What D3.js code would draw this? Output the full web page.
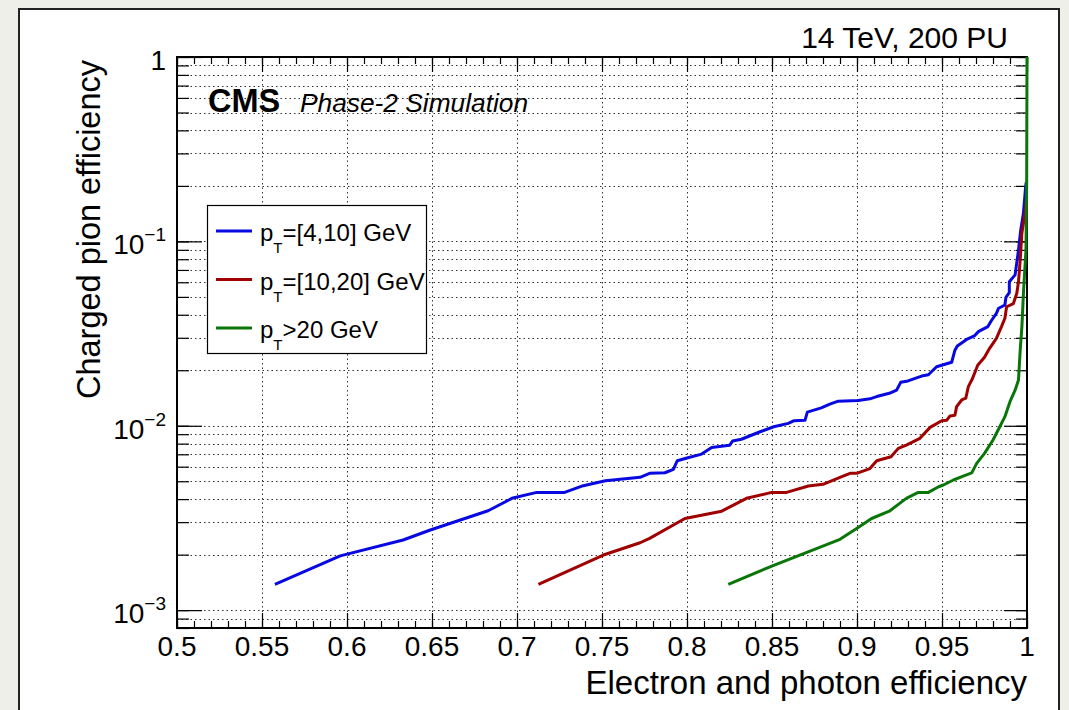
<!DOCTYPE html>
<html>
<head>
<meta charset="utf-8">
<title>Charged pion vs electron efficiency</title>
<script src="https://d3js.org/d3.v7.min.js"></script>
<style>
  body { margin: 0; background: #efefea; }
  text { font-family: "Liberation Sans", Arial, Helvetica, sans-serif; fill: #000; }
</style>
</head>
<body>
<svg width="1069" height="710"></svg>
<script>
// series
const seriesNames = ["[4,10] GeV", "[10,20] GeV", ">20 GeV"];
const seriesColors = ["#0808e0", "#a00000", "#0a760a"];

const blueX = [0.5576, 0.596, 0.633, 0.649, 0.683, 0.697, 0.7116, 0.728, 0.739, 0.752, 0.7724, 0.778, 0.787, 0.792, 0.7943, 0.800, 0.8086, 0.8145, 0.825, 0.8268, 0.832, 0.843, 0.851, 0.8596, 0.863, 0.8694, 0.8708, 0.879, 0.884, 0.889, 0.9008, 0.9076, 0.9116, 0.919, 0.9233, 0.9257, 0.930, 0.938, 0.942, 0.9468, 0.9557, 0.9576, 0.959, 0.9645, 0.969, 0.9714, 0.977, 0.979, 0.982, 0.9833, 0.987, 0.9876, 0.9896, 0.9896, 0.993, 0.995, 0.9963, 0.9979, 0.9992, 0.9996];
const blueY = [0.00138, 0.00197, 0.00240, 0.00272, 0.00346, 0.00404, 0.00435, 0.00435, 0.00473, 0.00503, 0.00525, 0.00552, 0.00556, 0.0058, 0.00646, 0.00668, 0.00702, 0.00763, 0.00783, 0.00826, 0.00845, 0.00928, 0.00988, 0.0103, 0.01065, 0.0107, 0.01186, 0.0125, 0.0131, 0.0136, 0.0137, 0.0140, 0.0144, 0.0150, 0.0156, 0.0172, 0.0175, 0.0186, 0.0189, 0.0209, 0.0221, 0.0257, 0.0271, 0.0294, 0.0307, 0.0324, 0.0345, 0.0371, 0.0407, 0.0434, 0.0452, 0.0497, 0.0527, 0.0604, 0.0658, 0.0898, 0.115, 0.142, 0.198, 0.21];

const redX = [0.7126, 0.7508, 0.7724, 0.778, 0.7988, 0.8204, 0.835, 0.8498, 0.8586, 0.8714, 0.880, 0.890, 0.8959, 0.8998, 0.9076, 0.9116, 0.920, 0.9243, 0.929, 0.937, 0.943, 0.9498, 0.9527, 0.9547, 0.9576, 0.9586, 0.9616, 0.964, 0.9655, 0.968, 0.971, 0.975, 0.978, 0.982, 0.985, 0.987, 0.988, 0.992, 0.994, 0.995, 0.996, 0.997, 0.9988, 0.9998];
const redY = [0.00138, 0.00199, 0.00232, 0.00245, 0.00314, 0.00344, 0.00404, 0.00435, 0.00435, 0.00471, 0.00481, 0.00525, 0.00552, 0.00552, 0.00586, 0.00646, 0.00679, 0.00754, 0.00786, 0.00855, 0.0098, 0.01065, 0.0107, 0.0113, 0.0114, 0.0127, 0.0138, 0.0141, 0.0163, 0.0181, 0.0213, 0.0235, 0.0263, 0.0298, 0.0345, 0.0383, 0.0442, 0.046, 0.0523, 0.0604, 0.0794, 0.111, 0.142, 0.175];

const greenX = [0.8243, 0.851, 0.890, 0.8998, 0.9086, 0.919, 0.929, 0.936, 0.942, 0.948, 0.9508, 0.9567, 0.9625, 0.9675, 0.9704, 0.975, 0.980, 0.984, 0.987, 0.990, 0.993, 0.995, 0.996, 0.997, 0.998, 0.9994, 0.9998, 1.0];
const greenY = [0.00138, 0.00175, 0.00242, 0.00277, 0.00314, 0.00344, 0.00404, 0.00435, 0.00435, 0.00467, 0.00477, 0.00508, 0.00533, 0.00555, 0.00625, 0.00708, 0.00837, 0.00988, 0.0112, 0.0135, 0.0156, 0.0177, 0.0257, 0.0345, 0.0545, 0.0898, 0.2, 1.0];

const xTicks = [0.5, 0.55, 0.6, 0.65, 0.7, 0.75, 0.8, 0.85, 0.9, 0.95, 1];
const xTickLabels = ["0.5", "0.55", "0.6", "0.65", "0.7", "0.75", "0.8", "0.85", "0.9", "0.95", "1"];
const yTicks = [1e-3, 1e-2, 1e-1, 1];
const yTickBase = ["10", "10", "10", "1"];
const yTickExp = ["\u22123", "\u22122", "\u22121", ""];

const svg = d3.select("svg");
const frame = {left: 177, right: 1027, top: 57, bottom: 628};

// canvas
svg.append("rect")
  .attr("x", 19).attr("y", 9).attr("width", 1040).attr("height", 720)
  .attr("fill", "#fff").attr("stroke", "#222").attr("stroke-width", 2);

const x = d3.scaleLinear().domain([0.5, 1]).range([frame.left, frame.right]);
const y = d3.scaleLog().domain([8e-4, 1]).range([frame.bottom, frame.top]);

const xMinor = d3.range(0, 51).map(i => 0.5 + i * 0.01);
const yMinor = y.ticks();

// grid
const grid = svg.append("g")
  .attr("stroke", "#333").attr("stroke-width", 1).attr("stroke-dasharray", "1.5,3");
grid.selectAll(".gx").data(xTicks.slice(1, -1)).join("line")
  .attr("x1", d => Math.round(x(d)) + 0.5).attr("x2", d => Math.round(x(d)) + 0.5)
  .attr("y1", frame.top).attr("y2", frame.bottom);
grid.selectAll(".gy").data(yMinor.filter(d => d > 8.01e-4 && d < 0.999)).join("line")
  .attr("y1", d => Math.round(y(d)) + 0.5).attr("y2", d => Math.round(y(d)) + 0.5)
  .attr("x1", frame.left).attr("x2", frame.right);

// ticks (ROOT style, pointing inwards, on all four sides)
function ticks(axis, size, transform) {
  svg.append("g").attr("transform", transform)
    .call(axis.tickSize(size).tickFormat(""))
    .call(g => g.select(".domain").remove())
    .selectAll("line").attr("stroke", "#000").attr("stroke-width", 1.2);
}
ticks(d3.axisBottom(x).tickValues(xMinor), -7, `translate(0,${frame.bottom})`);
ticks(d3.axisBottom(x).tickValues(xTicks), -15, `translate(0,${frame.bottom})`);
ticks(d3.axisTop(x).tickValues(xMinor), -7, `translate(0,${frame.top})`);
ticks(d3.axisTop(x).tickValues(xTicks), -15, `translate(0,${frame.top})`);
ticks(d3.axisLeft(y).tickValues(yMinor), -12, `translate(${frame.left},0)`);
ticks(d3.axisLeft(y).tickValues(yTicks), -25, `translate(${frame.left},0)`);
ticks(d3.axisRight(y).tickValues(yMinor), -11, `translate(${frame.right},0)`);
ticks(d3.axisRight(y).tickValues(yTicks), -23, `translate(${frame.right},0)`);

// frame
svg.append("rect")
  .attr("x", frame.left).attr("y", frame.top)
  .attr("width", frame.right - frame.left).attr("height", frame.bottom - frame.top)
  .attr("fill", "none").attr("stroke", "#000").attr("stroke-width", 2);

// tick labels
svg.append("g").selectAll("text").data(xTicks).join("text")
  .attr("x", d => x(d)).attr("y", 656)
  .attr("text-anchor", "middle").attr("font-size", 28)
  .text((d, i) => xTickLabels[i]);

const yl = svg.append("g").selectAll("text").data(yTicks).join("text")
  .attr("x", 166).attr("y", d => y(d) + 13)
  .attr("text-anchor", "end").attr("font-size", 28);
yl.append("tspan").text((d, i) => yTickBase[i]);
yl.append("tspan").attr("font-size", 19).attr("dy", -13).text((d, i) => yTickExp[i]);

// axis titles
svg.append("text")
  .attr("x", frame.right).attr("y", 694)
  .attr("text-anchor", "end").attr("font-size", 33)
  .text("Electron and photon efficiency");
svg.append("text")
  .attr("transform", "translate(100,60) rotate(-90)")
  .attr("text-anchor", "end").attr("font-size", 32.5)
  .text("Charged pion efficiency");

// labels
svg.append("text")
  .attr("x", 1008).attr("y", 48).attr("text-anchor", "end").attr("font-size", 30)
  .text("14 TeV, 200 PU");
svg.append("text")
  .attr("x", 208).attr("y", 112).attr("font-size", 32.5).attr("font-weight", "bold")
  .text("CMS");
svg.append("text")
  .attr("x", 300).attr("y", 112).attr("font-size", 26.3).attr("font-style", "italic")
  .text("Phase-2 Simulation");

// curves
const series = [
  blueX.map((v, i) => [v, blueY[i]]),
  redX.map((v, i) => [v, redY[i]]),
  greenX.map((v, i) => [v, greenY[i]])
];
const line = d3.line().x(d => x(d[0])).y(d => y(d[1]));
svg.append("g").selectAll("path").data(series).join("path")
  .attr("d", line)
  .attr("fill", "none")
  .attr("stroke", (d, i) => seriesColors[i])
  .attr("stroke-width", 3)
  .attr("stroke-linejoin", "round");

// legend
const legend = svg.append("g");
legend.append("rect")
  .attr("x", 207.5).attr("y", 205.5).attr("width", 219).attr("height", 148)
  .attr("fill", "#fff").attr("stroke", "#000").attr("stroke-width", 1.2);
const items = legend.selectAll("g").data(seriesNames).join("g")
  .attr("transform", (d, i) => `translate(0,${231 + i * 48.5})`);
items.append("line")
  .attr("x1", 216).attr("x2", 252)
  .attr("stroke", (d, i) => seriesColors[i]).attr("stroke-width", 3);
const lt = items.append("text").attr("x", 260).attr("y", 10).attr("font-size", 24);
lt.append("tspan").text("p");
lt.append("tspan").attr("font-size", 15).attr("dy", 12).text("T");
lt.append("tspan").attr("dy", -12).text(d => (d[0] === ">" ? "" : "=") + d);
</script>
</body>
</html>
